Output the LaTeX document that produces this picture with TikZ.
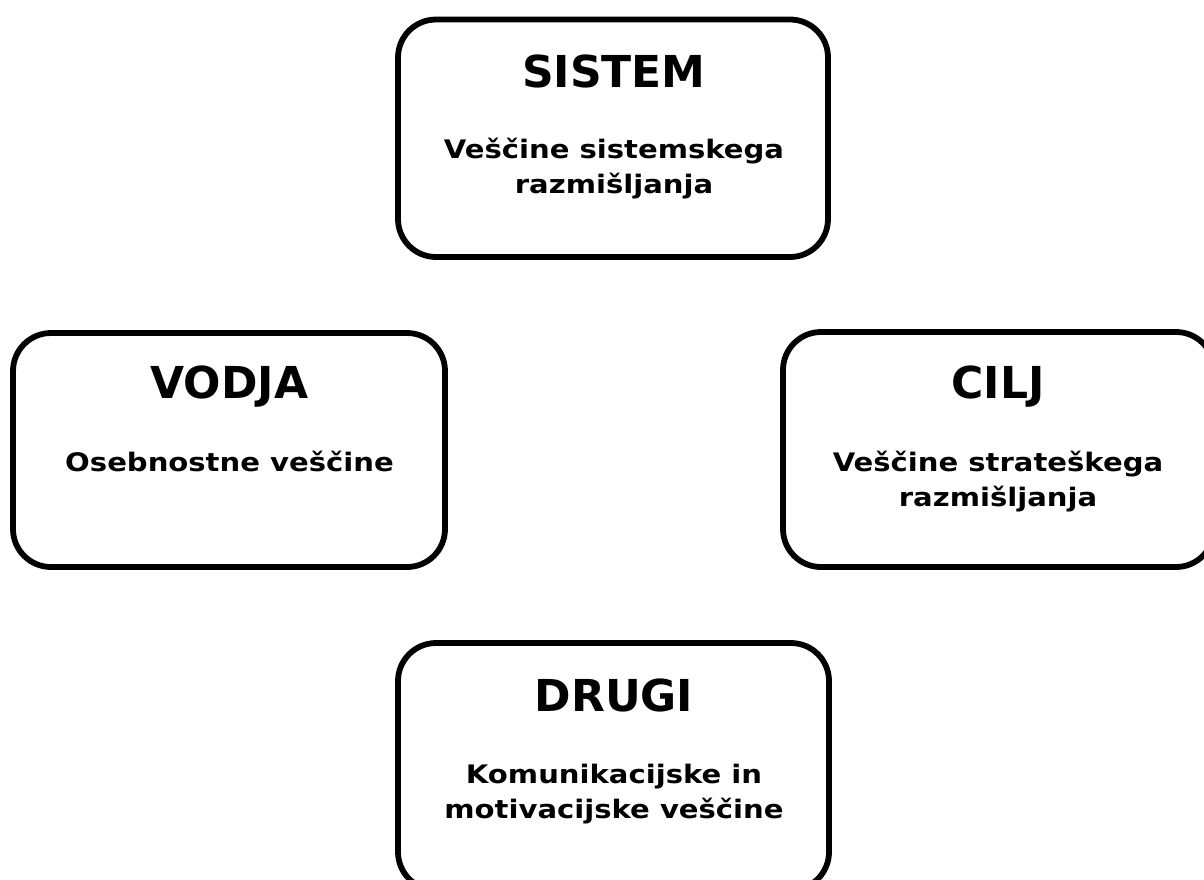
\documentclass[tikz,border=0pt]{standalone}
\usepackage{fontspec}
\setmainfont{DejaVu Sans}
\newfontfamily\subfont{DejaVu Sans}[FakeStretch=1.14]
\begin{document}
\begin{tikzpicture}[x=1pt,y=-1pt,
  card/.style={draw=black,line width=5.8pt,rounded corners=38pt,fill=white},
  ttl/.style={font=\bfseries\fontsize{44}{50}\selectfont,inner sep=0pt,anchor=base},
  sub/.style={font=\subfont\bfseries\fontsize{25.5}{31}\selectfont,inner sep=0pt,anchor=base}]
\useasboundingbox (0,0) rectangle (1204,879);
\clip (0,0) rectangle (1204,879);
\draw[card] (398,19.5) rectangle (828,257);
\draw[card] (13,333) rectangle (445,567);
\draw[card] (783,332) rectangle (1214,567);
\draw[card] (398,643) rectangle (829,890);
\node[ttl] (sistemT) at (614,87) {SISTEM};
\node[sub] (sistemS1) at (614,158) {Veščine sistemskega};
\node[sub] (sistemS2) at (614,193) {razmišljanja};
\node[ttl] (vodjaT) at (229.5,398) {VODJA};
\node[sub] (vodjaS) at (229.5,471) {Osebnostne veščine};
\node[ttl] (ciljT) at (998,398) {CILJ};
\node[sub] (ciljS1) at (998,471) {Veščine strateškega};
\node[sub] (ciljS2) at (998,506) {razmišljanja};
\node[ttl] (drugiT) at (614,711) {DRUGI};
\node[sub] (drugiS1) at (614,783) {Komunikacijske in};
\node[sub] (drugiS2) at (614,818) {motivacijske veščine};
\end{tikzpicture}
\end{document}
